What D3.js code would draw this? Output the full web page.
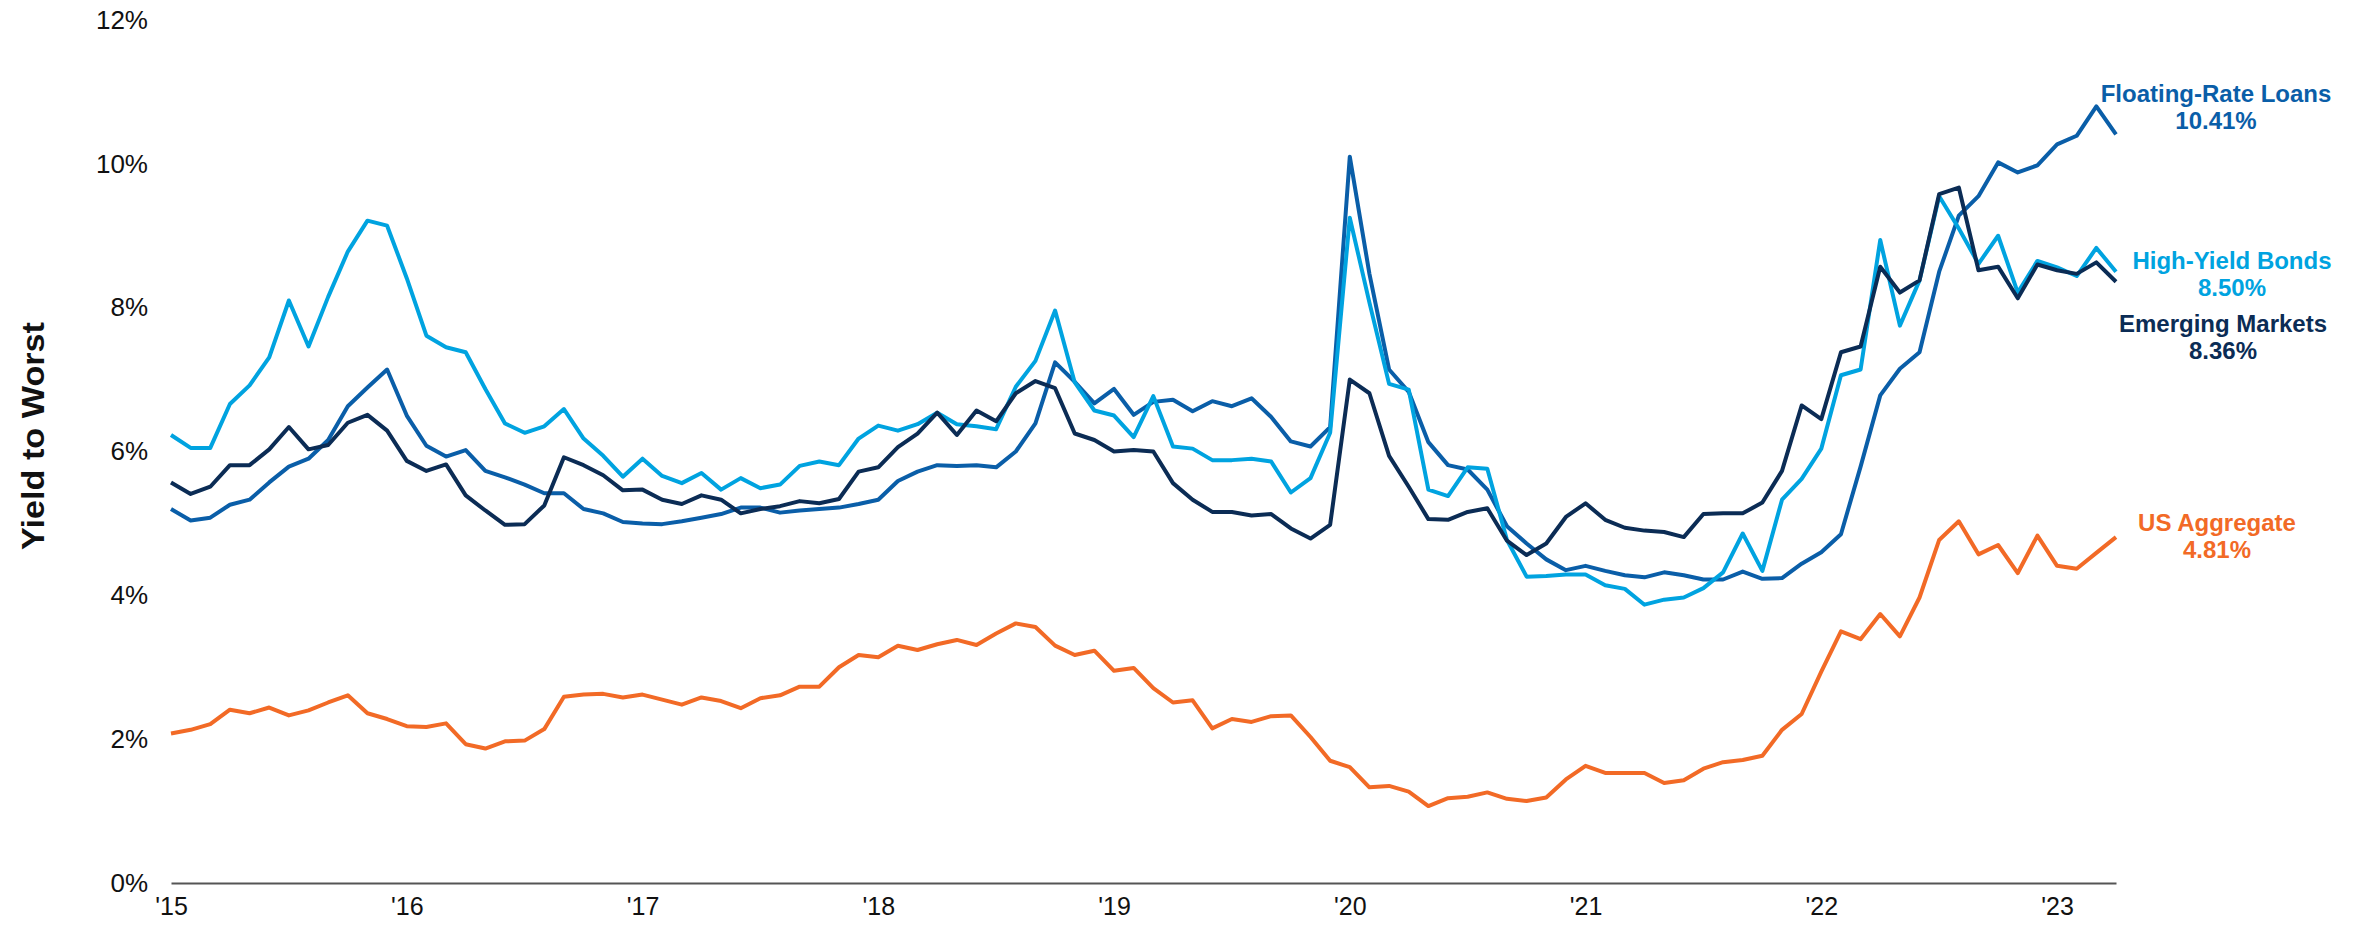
<!DOCTYPE html>
<html>
<head>
<meta charset="utf-8">
<script src="https://cdn.jsdelivr.net/npm/d3@7"></script>
<style>
  body { margin: 0; background: #fff; }
  svg { display: block; font-family: "Liberation Sans", Arial, sans-serif; }
</style>
</head>
<body>
<div id="chart"></div>
<script>
// monthly points, Jan '15 .. Apr '23
const yearLabels = ["'15", "'16", "'17", "'18", "'19", "'20", "'21", "'22", "'23"];
const yTicks = [0, 2, 4, 6, 8, 10, 12];

const floatingRate = [
  5.20, 5.04, 5.08, 5.26, 5.33, 5.57, 5.79, 5.90, 6.16, 6.63, 6.89, 7.14,
  6.50, 6.08, 5.93, 6.02, 5.73, 5.64, 5.54, 5.42, 5.42, 5.20, 5.14, 5.02,
  5.00, 4.99, 5.03, 5.08, 5.13, 5.22, 5.22, 5.15, 5.18, 5.20, 5.22, 5.27,
  5.33, 5.59, 5.72, 5.81, 5.80, 5.81, 5.78, 6.00, 6.39, 7.24, 6.97, 6.67,
  6.87, 6.51, 6.69, 6.72, 6.56, 6.70, 6.63, 6.74, 6.48, 6.14, 6.07, 6.34,
  10.10, 8.47, 7.14, 6.83, 6.13, 5.81, 5.75, 5.47, 4.96, 4.72, 4.50, 4.35,
  4.41, 4.34, 4.28, 4.25, 4.32, 4.28, 4.22, 4.22, 4.33, 4.23, 4.24, 4.44,
  4.60, 4.85, 5.79, 6.78, 7.15, 7.38, 8.50, 9.28, 9.55, 10.02, 9.88, 9.98,
  10.27, 10.39, 10.80, 10.41
];

const highYield = [
  6.23, 6.05, 6.05, 6.66, 6.92, 7.31, 8.10, 7.46, 8.15, 8.78, 9.21, 9.14,
  8.41, 7.61, 7.45, 7.38, 6.87, 6.39, 6.26, 6.35, 6.59, 6.18, 5.94, 5.65,
  5.90, 5.66, 5.56, 5.70, 5.47, 5.63, 5.49, 5.54, 5.80, 5.86, 5.81, 6.18,
  6.36, 6.29, 6.38, 6.54, 6.38, 6.35, 6.31, 6.90, 7.26, 7.96, 6.96, 6.57,
  6.50, 6.20, 6.77, 6.07, 6.04, 5.88, 5.88, 5.90, 5.86, 5.43, 5.63, 6.26,
  9.25, 8.07, 6.94, 6.86, 5.47, 5.38, 5.78, 5.76, 4.77, 4.26, 4.27, 4.29,
  4.29, 4.14, 4.09, 3.87, 3.94, 3.97, 4.10, 4.32, 4.86, 4.34, 5.33, 5.62,
  6.04, 7.06, 7.14, 8.94, 7.75, 8.38, 9.55, 9.10, 8.61, 9.00, 8.21, 8.65,
  8.56, 8.44, 8.83, 8.50
];

const emergingMarkets = [
  5.57, 5.41, 5.51, 5.81, 5.81, 6.03, 6.34, 6.03, 6.09, 6.40, 6.51, 6.29,
  5.87, 5.73, 5.82, 5.39, 5.18, 4.98, 4.99, 5.25, 5.92, 5.81, 5.67, 5.46,
  5.47, 5.33, 5.27, 5.39, 5.33, 5.14, 5.20, 5.24, 5.31, 5.28, 5.34, 5.72,
  5.78, 6.06, 6.25, 6.54, 6.23, 6.57, 6.42, 6.81, 6.98, 6.88, 6.25, 6.16,
  6.00, 6.02, 6.00, 5.56, 5.33, 5.16, 5.16, 5.11, 5.13, 4.93, 4.79, 4.98,
  7.00, 6.81, 5.94, 5.51, 5.06, 5.05, 5.16, 5.21, 4.76, 4.56, 4.72, 5.09,
  5.28, 5.05, 4.94, 4.90, 4.88, 4.81, 5.13, 5.14, 5.14, 5.29, 5.73, 6.64,
  6.45, 7.38, 7.46, 8.57, 8.21, 8.38, 9.58, 9.67, 8.52, 8.57, 8.13, 8.60,
  8.52, 8.47, 8.63, 8.36
];

const usAggregate = [
  2.08, 2.13, 2.21, 2.41, 2.36, 2.44, 2.33, 2.40, 2.51, 2.61, 2.36, 2.28,
  2.18, 2.17, 2.22, 1.93, 1.87, 1.97, 1.98, 2.14, 2.59, 2.62, 2.63, 2.58,
  2.62, 2.55, 2.48, 2.58, 2.53, 2.43, 2.57, 2.61, 2.73, 2.73, 3.00, 3.17,
  3.14, 3.30, 3.24, 3.32, 3.38, 3.31, 3.47, 3.61, 3.56, 3.30, 3.17, 3.23,
  2.95, 2.99, 2.71, 2.51, 2.54, 2.15, 2.28, 2.24, 2.32, 2.33, 2.03, 1.70,
  1.61, 1.33, 1.35, 1.27, 1.07, 1.18, 1.20, 1.26, 1.17, 1.14, 1.19, 1.44,
  1.63, 1.53, 1.53, 1.53, 1.39, 1.43, 1.59, 1.68, 1.71, 1.77, 2.13, 2.35,
  2.94, 3.50, 3.39, 3.74, 3.43, 3.97, 4.77, 5.03, 4.57, 4.70, 4.31, 4.83,
  4.41, 4.37, 4.59, 4.81
];

const seriesNames = ["Floating-Rate Loans", "High-Yield Bonds", "Emerging Markets", "US Aggregate"];
const seriesLabels = ["10.41%", "8.50%", "8.36%", "4.81%"];

const width = 2362, height = 926;

const series = [
  { name: seriesNames[0], label: seriesLabels[0], values: floatingRate, color: "#0a5ea8", lx: 2216, ly: 102 },
  { name: seriesNames[1], label: seriesLabels[1], values: highYield, color: "#00a3e0", lx: 2232, ly: 269 },
  { name: seriesNames[2], label: seriesLabels[2], values: emergingMarkets, color: "#0b2c55", lx: 2223, ly: 332 },
  { name: seriesNames[3], label: seriesLabels[3], values: usAggregate, color: "#f26a26", lx: 2217, ly: 531 }
];

const svg = d3.select("#chart")
  .append("svg")
  .attr("width", width)
  .attr("height", height);

svg.append("rect").attr("width", width).attr("height", height).attr("fill", "#fff");

const x = d3.scaleLinear()
  .domain([0, floatingRate.length - 1])
  .range([171, 2116]);

const y = d3.scaleLinear()
  .domain([0, 12])
  .range([883, 20]);

// x axis
const xAxis = svg.append("g")
  .attr("transform", `translate(0, ${y(0)})`)
  .call(d3.axisBottom(x)
    .tickValues(yearLabels.map((d, i) => i * 12))
    .tickFormat((d, i) => yearLabels[i])
    .tickSize(0)
    .tickSizeOuter(0)
    .tickPadding(14));

xAxis.select(".domain").attr("stroke", "#555").attr("stroke-width", 2);
xAxis.selectAll("text")
  .attr("font-size", 25)
  .attr("fill", "#111")
  .attr("font-family", "'Liberation Sans', Arial, sans-serif");

// y axis
const yAxis = svg.append("g")
  .attr("transform", "translate(171, 0)")
  .call(d3.axisLeft(y)
    .tickValues(yTicks)
    .tickFormat(d => d + "%")
    .tickSize(0)
    .tickPadding(23));

yAxis.select(".domain").remove();
yAxis.selectAll("text")
  .attr("font-size", 26)
  .attr("fill", "#111")
  .attr("font-family", "'Liberation Sans', Arial, sans-serif");

// axis title
svg.append("text")
  .attr("transform", "translate(44, 436) rotate(-90)")
  .attr("text-anchor", "middle")
  .attr("font-size", 32)
  .attr("font-weight", "bold")
  .attr("fill", "#111")
  .attr("textLength", 228)
  .attr("lengthAdjust", "spacingAndGlyphs")
  .text("Yield to Worst");

const line = d3.line()
  .x((d, i) => x(i))
  .y(d => y(d));

// draw back to front: orange, floating, high yield, emerging
const drawOrder = [3, 0, 1, 2];
svg.append("g")
  .selectAll("path")
  .data(drawOrder.map(i => series[i]))
  .join("path")
  .attr("d", d => line(d.values))
  .attr("fill", "none")
  .attr("stroke", d => d.color)
  .attr("stroke-width", 4)
  .attr("stroke-linejoin", "round");

// end labels
const labels = svg.append("g")
  .selectAll("text")
  .data(series)
  .join("text")
  .attr("x", d => d.lx)
  .attr("y", d => d.ly)
  .attr("text-anchor", "middle")
  .attr("font-size", 24)
  .attr("font-weight", "bold")
  .attr("fill", d => d.color);

labels.append("tspan").text(d => d.name);
labels.append("tspan")
  .attr("x", d => d.lx)
  .attr("dy", 27)
  .text(d => d.label);
</script>
</body>
</html>
